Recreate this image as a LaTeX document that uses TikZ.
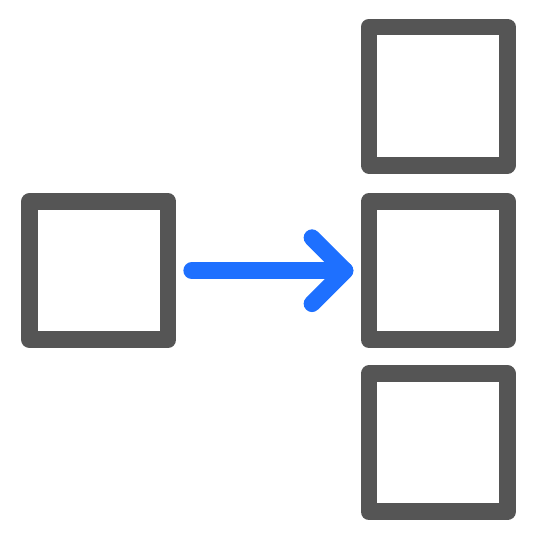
\documentclass[tikz,border=0pt]{standalone}
\usetikzlibrary{calc}
\definecolor{boxgray}{RGB}{85,85,85}
\definecolor{arrowblue}{RGB}{30,112,255}
\tikzset{
  sqbox/.style={draw=boxgray, line width=16.8pt, line join=round, rectangle,
    inner sep=0pt, outer sep=0pt, minimum width=138.5pt, minimum height=138pt},
  arrowline/.style={draw=arrowblue, line width=16.7pt, line cap=round, line join=round}
}
\begin{document}
\begin{tikzpicture}[x=1pt,y=-1pt]
\useasboundingbox (0,0) rectangle (535,535);
\node[sqbox] (L) at (98.75,270.7) {};
\node[sqbox] (T) at (438.25,96.1) {};
\node[sqbox] (M) at (438.25,270.7) {};
\node[sqbox] (B) at (438.25,442.85) {};
\coordinate (s) at ([xshift=23.7pt]L.east);
\coordinate (t) at ([xshift=-24pt]M.west);
\draw[arrowline] (s) -- (t);
\draw[arrowline] ([shift={(-33,-33)}]t) -- (t) -- ([shift={(-33,33)}]t);
\end{tikzpicture}
\end{document}
